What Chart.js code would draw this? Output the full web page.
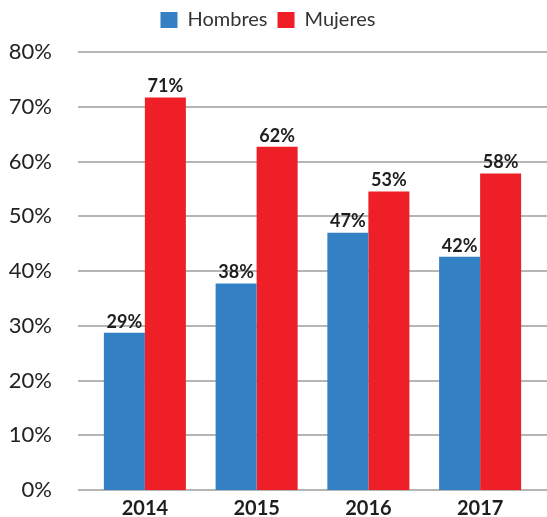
<!doctype html>
<html>

<head>
    <title>Hombres y Mujeres</title>
    <script src="https://cdn.jsdelivr.net/npm/chart.js"></script>
</head>

<style>
    body { margin: 0; background: white; overflow: hidden; }
</style>

<body>
    <canvas id="grafico" width="547" height="517"></canvas>

    <script>
        // datos
        var anios = ['2014', '2015', '2016', '2017'];
        var hombres = [28.7, 37.7, 47.0, 42.6];
        var mujeres = [71.7, 62.7, 54.5, 57.8];
        var etiquetasHombres = ['29%', '38%', '47%', '42%'];
        var etiquetasMujeres = ['71%', '62%', '53%', '58%'];
        var ticksY = [0, 10, 20, 30, 40, 50, 60, 70, 80];

        var fuente = 'Lato, "Open Sans", sans-serif';

        // lineas horizontales mas anchas que el area de barras
        var lineas = {
            id: 'lineas',
            beforeDatasetsDraw(chart) {
                var ctx = chart.ctx;
                var y = chart.scales.y;
                ctx.save();
                ctx.strokeStyle = '#b5b5b5';
                ctx.lineWidth = 2;
                ticksY.forEach(function (v) {
                    var py = Math.round(y.getPixelForValue(v));
                    ctx.beginPath();
                    ctx.moveTo(78, py);
                    ctx.lineTo(547, py);
                    ctx.stroke();
                });
                ctx.restore();
            }
        };

        var etiquetas = {
            id: 'etiquetas',
            afterDatasetsDraw(chart) {
                var ctx = chart.ctx;
                ctx.save();
                ctx.font = 'bold 18px ' + fuente;
                ctx.fillStyle = '#1e1e1e';
                ctx.textAlign = 'center';
                ctx.textBaseline = 'bottom';
                [etiquetasHombres, etiquetasMujeres].forEach(function (textos, d) {
                    chart.getDatasetMeta(d).data.forEach(function (barra, i) {
                        ctx.fillText(textos[i], barra.x, barra.y - 2);
                    });
                });
                ctx.restore();
            }
        };

        // alto fijo de la leyenda para que el area empiece en 80%
        var altoLeyenda = {
            id: 'altoLeyenda',
            afterInit(chart) {
                var fit = chart.legend.fit;
                chart.legend.fit = function () {
                    fit.call(this);
                    this.height = 52;
                };
            }
        };

        var grafico = new Chart(document.getElementById('grafico').getContext('2d'), {
            type: 'bar',
            data: {
                labels: anios,
                datasets: [{
                    label: 'Hombres',
                    data: hombres,
                    backgroundColor: '#3381c4'
                }, {
                    label: 'Mujeres',
                    data: mujeres,
                    backgroundColor: '#ee1f27'
                }]
            },
            options: {
                responsive: false,
                animation: false,
                layout: {
                    padding: { top: 0, right: 11, left: 0, bottom: 0 }
                },
                datasets: {
                    bar: {
                        categoryPercentage: 0.734,
                        barPercentage: 1
                    }
                },
                plugins: {
                    legend: {
                        position: 'top',
                        labels: {
                            boxWidth: 17,
                            boxHeight: 16,
                            padding: 10,
                            color: '#333',
                            font: { family: fuente, size: 20 }
                        }
                    },
                    tooltip: { enabled: false }
                },
                scales: {
                    x: {
                        grid: { display: false },
                        border: { display: false },
                        ticks: {
                            padding: -1,
                            color: '#1e1e1e',
                            font: { family: fuente, size: 20, weight: 'bold' }
                        },
                        afterFit: function (s) { s.height = 27; }
                    },
                    y: {
                        min: 0,
                        max: 80,
                        grid: { display: false, drawTicks: false },
                        border: { display: false },
                        ticks: {
                            stepSize: 10,
                            padding: 37,
                            color: '#222',
                            font: { family: fuente, size: 22 },
                            callback: function (v) { return v + '%'; }
                        },
                        afterFit: function (s) {
                            s.width = 89;
                            // el padding de las etiquetas no debe empujar el area
                            s.paddingTop = 0;
                            s.paddingBottom = 0;
                        }
                    }
                }
            },
            plugins: [lineas, etiquetas, altoLeyenda]
        });
    </script>
</body>

</html>
